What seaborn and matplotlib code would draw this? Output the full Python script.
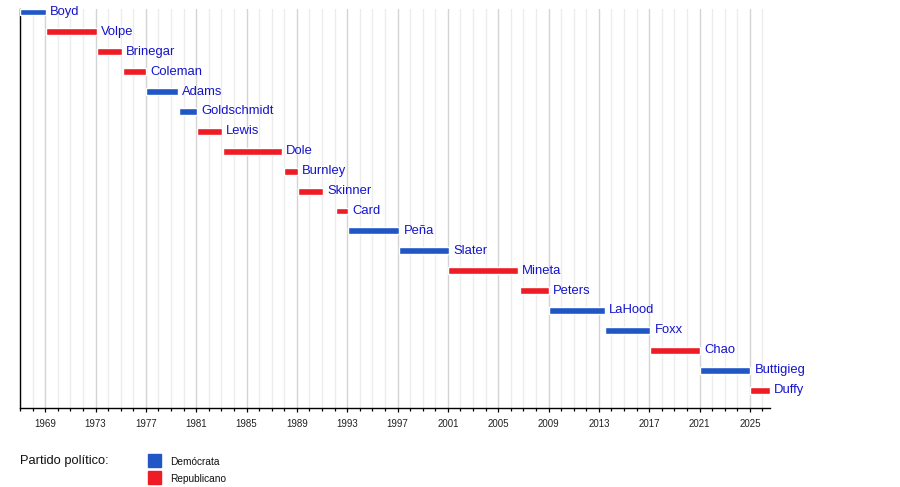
import matplotlib
matplotlib.use("Agg")
import matplotlib.pyplot as plt
from matplotlib.patches import Rectangle
import seaborn as sns

# Secretarios de Transporte (años decimales)
names = ["Boyd", "Volpe", "Brinegar", "Coleman", "Adams", "Goldschmidt", "Lewis",
         "Dole", "Burnley", "Skinner", "Card", "Peña", "Slater", "Mineta", "Peters",
         "LaHood", "Foxx", "Chao", "Buttigieg", "Duffy"]
start = [1967.0, 1969.05, 1973.1, 1975.15, 1977.05, 1979.6, 1981.1,
         1983.1, 1987.95, 1989.1, 1992.1, 1993.05, 1997.1, 2001.05, 2006.75,
         2009.05, 2013.5, 2017.05, 2021.05, 2025.05]
end = [1969.05, 1973.1, 1975.1, 1977.05, 1979.55, 1981.05, 1983.05,
       1987.8, 1989.1, 1991.1, 1993.05, 1997.15, 2001.1, 2006.55, 2009.05,
       2013.5, 2017.1, 2021.05, 2025.05, 2026.6]
party = ["D", "R", "R", "R", "D", "D", "R", "R", "R", "R", "R", "D", "D", "R", "R",
         "D", "D", "R", "D", "R"]

party_colors = {"D": "#2156C6", "R": "#EE1C25"}
party_names = {"D": "Demócrata", "R": "Republicano"}
major_years = list(range(1969, 2026, 4))
minor_years = list(range(1967, 2027))
x_min, x_max = 1967.0, 2026.6

sns.set_style("white")
plt.rcParams["font.family"] = ["Liberation Sans", "DejaVu Sans"]

W, H = 900, 487
fig = plt.figure(figsize=(W / 100, H / 100), dpi=100)
ax = fig.add_axes([20 / W, 1 - 408 / H, 750 / W, 399 / H])

# bars
for i, (n, s, e, p) in enumerate(zip(names, start, end, party)):
    ax.barh(i, e - s, left=s, height=0.35, color=party_colors[p], zorder=3)
    ax.annotate(n, (e, i), xytext=(3, 0), textcoords="offset points",
                va="center", ha="left", fontsize=9.4, color="#1414CC", zorder=4)

ax.set_xlim(x_min, x_max)
ax.set_ylim(len(names) - 1 + 0.9, -0.15)
ax.set_yticks([])
ax.set_xticks(major_years)
ax.set_xticks(minor_years, minor=True)
ax.set_xticklabels([str(y) for y in major_years])
ax.grid(which="major", axis="x", color="#d4d4d4", lw=1, zorder=0)
ax.grid(which="minor", axis="x", color="#ececec", lw=1, zorder=0)
ax.tick_params(axis="x", which="major", length=3)
ax.tick_params(axis="x", which="both", direction="out", width=0.9,
               color="black", labelsize=7, labelcolor="#222222", pad=5, bottom=True)
ax.tick_params(axis="x", which="minor", length=2.2)
sns.despine(ax=ax, top=True, right=True)
ax.spines["left"].set_color("black")
ax.spines["bottom"].set_color("black")
ax.spines["left"].set_linewidth(1)
ax.spines["bottom"].set_linewidth(1)

# legend
fig.text(20 / W, 1 - 461 / H, "Partido político:", fontsize=9.3, va="center",
         ha="left", color="#111111")
for k, key in enumerate(["D", "R"]):
    top = 454 + k * 17
    fig.patches.append(Rectangle((148 / W, 1 - (top + 13) / H), 13 / W, 13 / H,
                                 transform=fig.transFigure, color=party_colors[key]))
    fig.text(170 / W, 1 - (top + 8) / H, party_names[key], fontsize=7.3,
             va="center", ha="left", color="#111111")

plt.savefig("out.png", dpi=100)
